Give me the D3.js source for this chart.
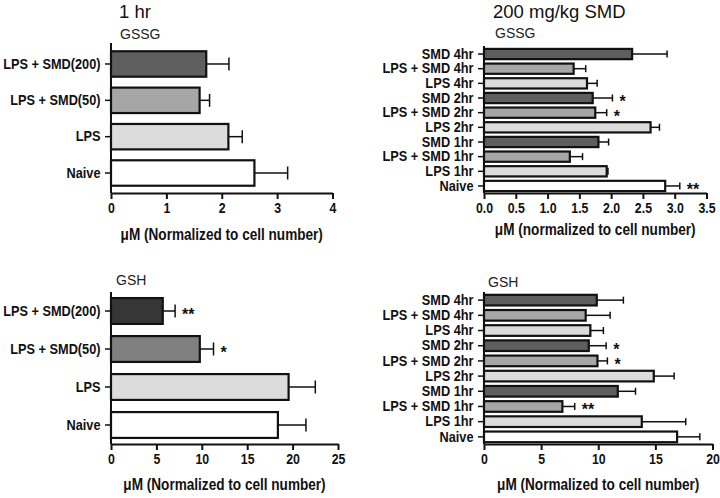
<!DOCTYPE html>
<html>
<head>
<meta charset="utf-8">
<script src="https://cdn.jsdelivr.net/npm/d3@7/dist/d3.min.js"></script>
<style>
  html, body { margin: 0; padding: 0; background: #fff; }
  svg { display: block; font-family: "Liberation Sans", Arial, Helvetica, sans-serif; }
</style>
</head>
<body>
<svg id="chart" width="720" height="498"></svg>
<script>
// ---------- data ----------
const leftCategories = ["LPS + SMD(200)", "LPS + SMD(50)", "LPS", "Naive"];
const gssg1hrMeans = [1.72, 1.60, 2.12, 2.59];
const gssg1hrErrs  = [0.41, 0.18, 0.25, 0.60];
const gssg1hrSig   = ["", "", "", ""];
const gsh1hrMeans  = [5.70, 9.78, 19.56, 18.38];
const gsh1hrErrs   = [1.36, 1.51, 2.94, 3.09];
const gsh1hrSig    = ["**", "*", "", ""];

const rightCategories = ["SMD 4hr", "LPS + SMD 4hr", "LPS 4hr", "SMD 2hr", "LPS + SMD 2hr",
                         "LPS 2hr", "SMD 1hr", "LPS + SMD 1hr", "LPS 1hr", "Naive"];
const gssgTimeMeans = [2.33, 1.41, 1.62, 1.71, 1.75, 2.62, 1.80, 1.35, 1.93, 2.85];
const gssgTimeErrs  = [0.55, 0.19, 0.16, 0.31, 0.18, 0.14, 0.16, 0.20, 0.02, 0.23];
const gssgTimeSig   = ["", "", "", "*", "*", "", "", "", "", "**"];
const gshTimeMeans  = [9.87, 8.90, 9.31, 9.17, 9.93, 14.86, 11.71, 6.86, 13.81, 16.90];
const gshTimeErrs   = [2.33, 2.14, 1.14, 1.52, 0.87, 1.78, 1.55, 1.08, 3.85, 1.99];
const gshTimeSig    = ["", "", "", "*", "*", "", "", "**", "", ""];

const ticksGssg1hr  = [0, 1, 2, 3, 4];
const ticksGssgTime = [0, 0.5, 1, 1.5, 2, 2.5, 3, 3.5];
const ticksGsh1hr   = [0, 5, 10, 15, 20, 25];
const ticksGshTime  = [0, 5, 10, 15, 20];

const xTitleLeft  = "μM (Normalized to cell number)";
const xTitleTopRight = "μM (normalized to cell number)";

// ---------- styles ----------
const SX_TICK = 0.85;
const SX_TITLE = 0.8;
const typeColor = cat => cat === "Naive" ? "#ffffff"
  : cat.startsWith("LPS + SMD") ? "#a6a6a6"
  : cat.startsWith("LPS") ? "#dcdcdc" : "#5e5e5e";

const svg = d3.select("#chart");

function panel(o) {
  const g = svg.append("g");
  const x = d3.scaleLinear().domain(o.domain).range([o.x0, o.x1]);
  const y = d3.scaleBand().domain(o.cats).range([o.y0, o.y1])
    .paddingInner(o.padIn).paddingOuter(o.padOut);
  const data = o.cats.map((c, i) => ({c, v: o.means[i], e: o.errs[i], s: o.sig[i], fill: o.fills[i]}));

  // error bars
  const eb = g.append("g").attr("stroke", "#111").attr("stroke-width", 1.5);
  data.forEach(d => {
    const cy = y(d.c) + y.bandwidth() / 2;
    eb.append("line").attr("x1", x(d.v)).attr("x2", x(d.v + d.e)).attr("y1", cy).attr("y2", cy);
    eb.append("line").attr("x1", x(d.v + d.e)).attr("x2", x(d.v + d.e))
      .attr("y1", cy - o.cap / 2).attr("y2", cy + o.cap / 2);
  });

  g.append("g").selectAll("rect").data(data).join("rect")
    .attr("x", x(0)).attr("y", d => y(d.c))
    .attr("width", d => x(d.v) - x(0)).attr("height", y.bandwidth())
    .attr("fill", d => d.fill).attr("stroke", "#111").attr("stroke-width", 2.2);

  // significance stars
  g.append("g").selectAll("text").data(data.filter(d => d.s)).join("text")
    .attr("x", d => x(d.v + d.e) + o.starGap)
    .attr("y", d => y(d.c) + y.bandwidth() / 2 + 9)
    .attr("font-size", 16).attr("font-weight", "bold").attr("fill", "#111")
    .text(d => d.s);

  // x axis
  const xa = g.append("g").attr("transform", `translate(0,${o.y1})`)
    .call(d3.axisBottom(x).tickValues(o.ticks).tickFormat(d3.format(o.fmt))
      .tickSize(6).tickSizeOuter(0).tickPadding(4));
  xa.select(".domain").attr("stroke", "#111").attr("stroke-width", 2);
  xa.selectAll(".tick line").attr("stroke", "#111").attr("stroke-width", 2);
  xa.selectAll(".tick text").attr("font-size", 14.5).attr("font-weight", "bold")
    .attr("fill", "#111").attr("font-family", "Liberation Sans, Arial, sans-serif")
    .attr("transform", `scale(${SX_TICK},1)`);

  // y axis
  const ya = g.append("g").attr("transform", `translate(${o.x0},0)`)
    .call(d3.axisLeft(y).tickSize(6).tickSizeOuter(0).tickPadding(4));
  ya.select(".domain").attr("d", `M0,${o.axTop}V${o.y1}`).attr("stroke", "#111").attr("stroke-width", 2);
  ya.selectAll(".tick line").attr("stroke", "#111").attr("stroke-width", 1.5);
  ya.selectAll(".tick text").attr("font-size", o.catSize).attr("font-weight", "bold")
    .attr("fill", "#111").attr("font-family", "Liberation Sans, Arial, sans-serif")
    .attr("x", -10.5 / o.catSx).attr("transform", `scale(${o.catSx},1)`);

  // x title
  g.append("text").attr("transform", `translate(${(o.x0 + o.x1) / 2},${o.titleY}) scale(${SX_TITLE},1)`)
    .attr("text-anchor", "middle").attr("font-size", 17).attr("font-weight", "bold")
    .attr("fill", "#111").text(o.xTitle);

  // panel label
  g.append("text").attr("x", o.labX).attr("y", o.labY)
    .attr("font-size", 14).attr("fill", "#222").text(o.label);
}

// header titles
svg.append("text").attr("x", 119).attr("y", 18).attr("font-size", 18.5).attr("fill", "#111").text("1 hr");
svg.append("text").attr("x", 493).attr("y", 18).attr("font-size", 18.5).attr("fill", "#111").text("200 mg/kg SMD");

const leftFillsTop = ["#5f5f5f", "#a6a6a6", "#dcdcdc", "#ffffff"];
const leftFillsBot = ["#363636", "#808080", "#dcdcdc", "#ffffff"];

panel({cats: leftCategories, means: gssg1hrMeans, errs: gssg1hrErrs, sig: gssg1hrSig, fills: leftFillsTop,
  domain: [0, 4], ticks: ticksGssg1hr, fmt: "d", x0: 111, x1: 332.5, y0: 44, y1: 193, axTop: 43,
  padIn: 0.3, padOut: 0.2, cap: 13, starGap: 6, xTitle: xTitleLeft, titleY: 240,
  catSize: 15, catSx: 0.85, label: "GSSG", labX: 120, labY: 39});

panel({cats: rightCategories, means: gssgTimeMeans, errs: gssgTimeErrs, sig: gssgTimeSig,
  fills: rightCategories.map(typeColor),
  domain: [0, 3.5], ticks: ticksGssgTime, fmt: ".1f", x0: 484, x1: 706.5, y0: 47, y1: 193, axTop: 46,
  padIn: 0.3, padOut: 0.13, cap: 7, starGap: 7, xTitle: xTitleTopRight, titleY: 235,
  catSize: 14.5, catSx: 0.88, label: "GSSG", labX: 495, labY: 38});

panel({cats: leftCategories, means: gsh1hrMeans, errs: gsh1hrErrs, sig: gsh1hrSig, fills: leftFillsBot,
  domain: [0, 25], ticks: ticksGsh1hr, fmt: "d", x0: 111, x1: 338, y0: 292, y1: 444, axTop: 292,
  padIn: 0.32, padOut: 0.16, cap: 13, starGap: 7, xTitle: xTitleLeft, titleY: 490,
  catSize: 15, catSx: 0.85, label: "GSH", labX: 116, labY: 285});

panel({cats: rightCategories, means: gshTimeMeans, errs: gshTimeErrs, sig: gshTimeSig,
  fills: rightCategories.map(typeColor),
  domain: [0, 20], ticks: ticksGshTime, fmt: "d", x0: 484, x1: 712.5, y0: 293, y1: 444, axTop: 292,
  padIn: 0.3, padOut: 0.12, cap: 7, starGap: 7, xTitle: xTitleLeft, titleY: 490,
  catSize: 14.5, catSx: 0.88, label: "GSH", labX: 488, labY: 287});
</script>
</body>
</html>
